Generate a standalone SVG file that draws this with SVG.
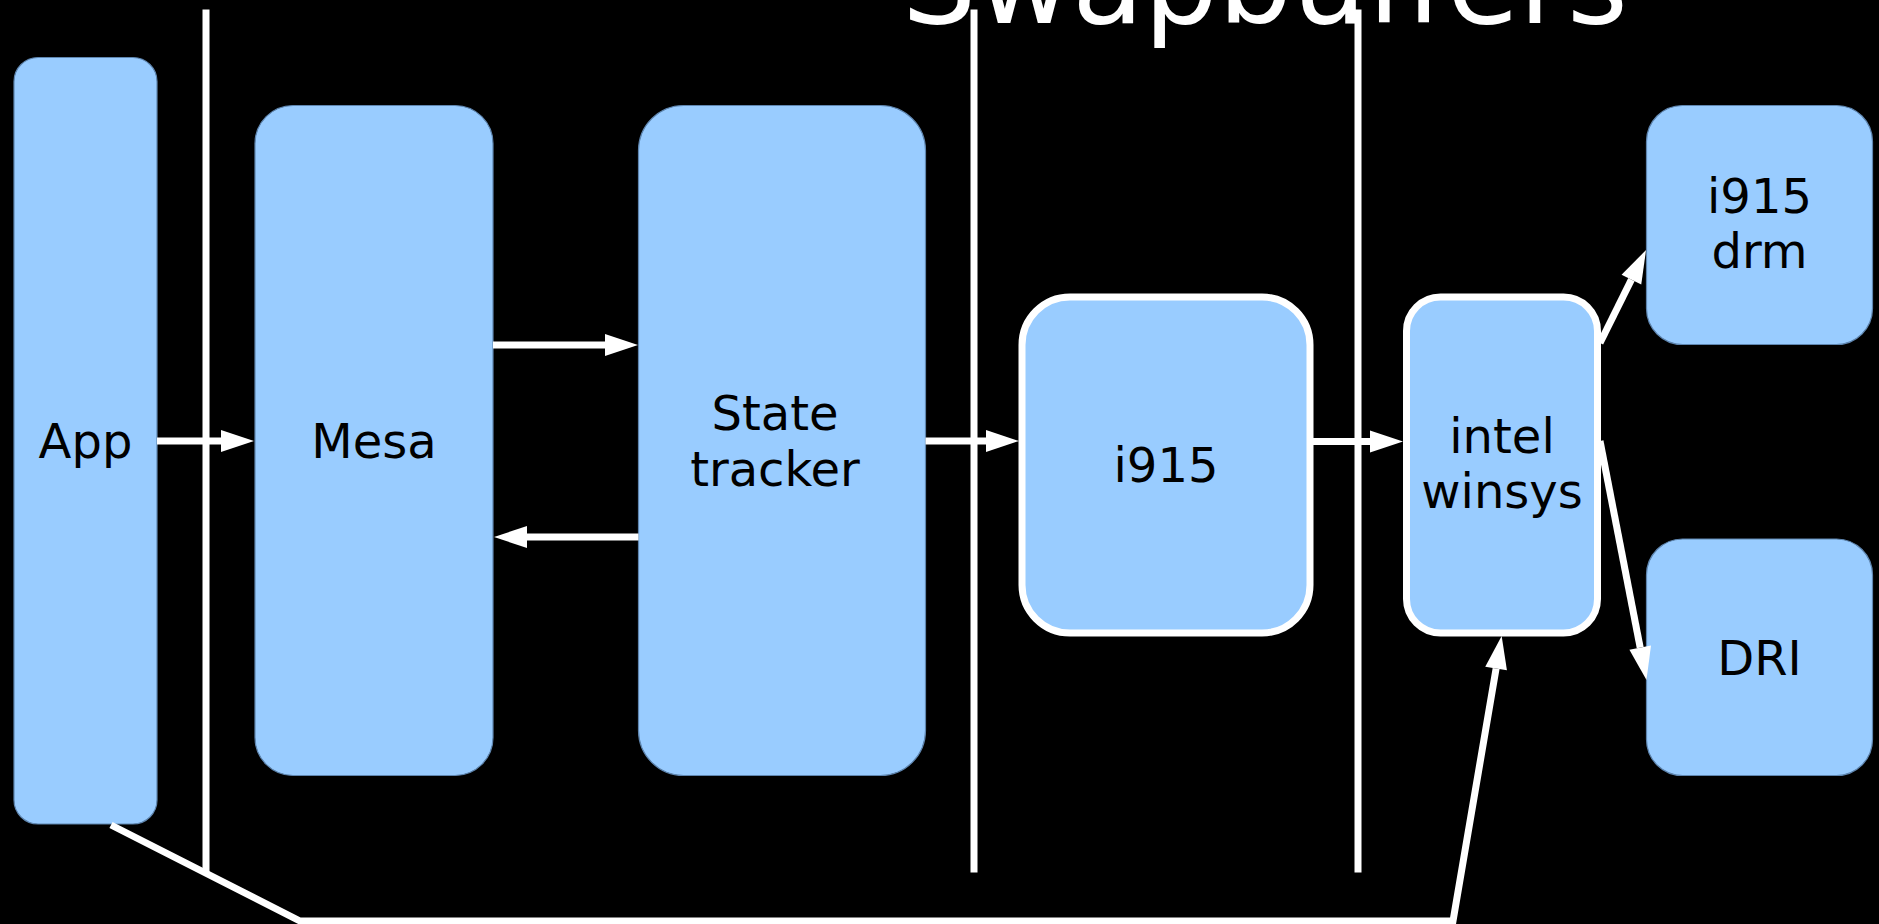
<svg xmlns="http://www.w3.org/2000/svg" width="1879" height="924" viewBox="0 0 1879 924">
<style>
.box{fill:#99ccff;stroke:#5f86b0;stroke-width:1.2}
.wbox{fill:#99ccff;stroke:#ffffff;stroke-width:7}
.lbl{font-family:"DejaVu Sans",sans-serif;font-size:48px;fill:#000000;text-anchor:middle}
.title{font-family:"DejaVu Sans",sans-serif;font-size:117px;fill:#ffffff;text-anchor:middle}
.sep{stroke:#ffffff;stroke-width:7;fill:none}
.con{stroke:#ffffff;stroke-width:7;fill:none;marker-end:url(#ah)}
</style>
<defs>
<marker id="ah" markerUnits="userSpaceOnUse" markerWidth="40" markerHeight="30" refX="0" refY="11" orient="auto" viewBox="0 0 40 30" overflow="visible">
<path d="M0,0 L33,11 L0,22 z" fill="#ffffff"/>
</marker>
</defs>
<rect x="0" y="0" width="1879" height="924" fill="#000000"/>
<text class="title" x="1265" y="22.7">Swapbuffers</text>
<g id="separators">
<line class="sep" x1="206" y1="9.5" x2="206" y2="872.5"/>
<line class="sep" x1="974" y1="9.5" x2="974" y2="872.5"/>
<line class="sep" x1="1358" y1="9.5" x2="1358" y2="872.5"/>
</g>
<g id="app">
<rect class="box" x="14" y="57.5" width="143" height="766.5" rx="24" ry="24"/>
<text class="lbl" x="85.5" y="457.5">App</text>
</g>
<g id="mesa">
<rect class="box" x="255" y="105.5" width="238" height="670" rx="38" ry="38"/>
<text class="lbl" x="374" y="457.5">Mesa</text>
</g>
<g id="state-tracker">
<rect class="box" x="638.5" y="105.5" width="287" height="670" rx="45" ry="45"/>
<text class="lbl" x="775" y="430">State</text>
<text class="lbl" x="775" y="485.7">tracker</text>
</g>
<g id="i915">
<rect class="wbox" x="1022" y="297" width="288" height="336" rx="48" ry="48"/>
<text class="lbl" x="1166" y="481.7">i915</text>
</g>
<g id="intel-winsys">
<rect class="wbox" x="1406.5" y="297" width="191" height="336" rx="34" ry="34"/>
<text class="lbl" x="1502" y="453.3">intel</text>
<text class="lbl" x="1502" y="508.3">winsys</text>
</g>
<g id="i915-drm">
<rect class="box" x="1646.5" y="105.5" width="226" height="239" rx="36" ry="36"/>
<text class="lbl" x="1759.5" y="213.3">i915</text>
<text class="lbl" x="1759.5" y="268.3">drm</text>
</g>
<g id="dri">
<rect class="box" x="1646.5" y="539" width="226" height="236.5" rx="36" ry="36"/>
<text class="lbl" x="1759.5" y="675">DRI</text>
</g>
<g id="connectors">
<path class="con" d="M157,441 H221"/>
<path class="con" d="M493,345 H605"/>
<path class="con" d="M638.5,537 H527"/>
<path class="con" d="M925.5,441 H986"/>
<path class="con" d="M1313,441.5 H1370"/>
<path class="con" d="M1600,343 L1631.4,279.6"/>
<path class="con" d="M1600,441 L1640.2,647.6"/>
<path class="con" d="M111,825 L300,921 L1453,921 L1496.1,668.5"/>
</g>
</svg>
